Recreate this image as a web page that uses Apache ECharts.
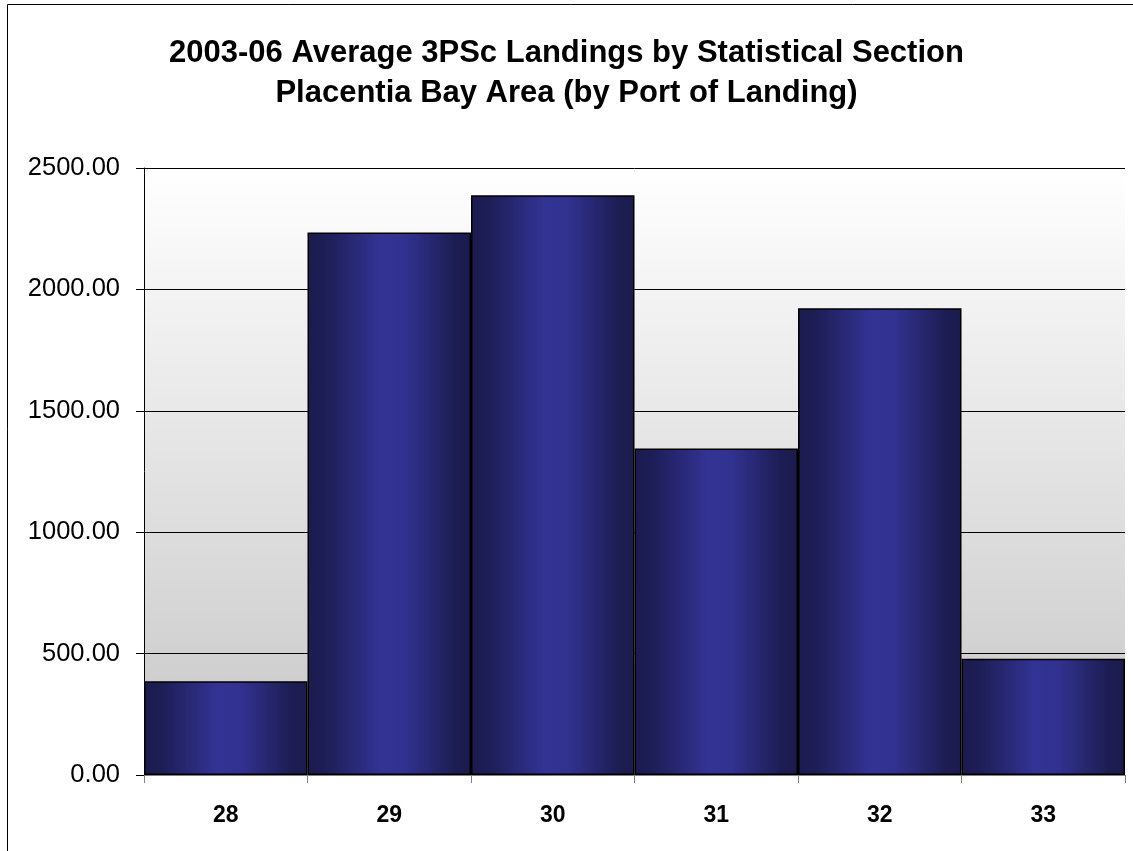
<!DOCTYPE html>
<html>
<head>
<meta charset="utf-8" />
<title>3PSc Landings</title>
<script src="https://cdn.jsdelivr.net/npm/echarts@6/dist/echarts.min.js"></script>
<style>
  html, body { margin: 0; padding: 0; background: #fff; }
  #main { width: 1133px; height: 851px; }
</style>
</head>
<body>
<div id="main"></div>
<script type="text/javascript">
var sections = ['28', '29', '30', '31', '32', '33'];
var landings = [386, 2234, 2388, 1345, 1922, 479];
var yTicks = [0, 500, 1000, 1500, 2000, 2500];

var myChart = echarts.init(document.getElementById('main'));

// bar fill: dark edges, lighter blue in the middle
var barFill = new echarts.graphic.LinearGradient(0, 0, 1, 0, [
    { offset: 0, color: '#1b1b4e' },
    { offset: 0.12, color: '#1e1e58' },
    { offset: 0.45, color: '#333395' },
    { offset: 0.6, color: '#31318f' },
    { offset: 0.9, color: '#1d1d54' },
    { offset: 1, color: '#1b1b4c' }
]);

var option = {
    backgroundColor: '#ffffff',
    animation: false,
    title: {
        text: '2003-06 Average 3PSc Landings by Statistical Section\nPlacentia Bay Area (by Port of Landing)',
        left: 'center',
        top: 28,
        textStyle: {
            fontFamily: 'Liberation Sans, Arial, sans-serif',
            fontSize: 31,
            fontWeight: 'bold',
            color: '#000',
            lineHeight: 40
        }
    },
    graphic: [{
        type: 'rect',
        shape: { x: 7.5, y: 4.5, width: 1140, height: 860 },
        style: { fill: 'none', stroke: '#000', lineWidth: 1 },
        silent: true,
        z: -1
    }],
    grid: {
        left: 144,
        top: 168,
        right: 8,
        bottom: 76,
        show: true,
        borderWidth: 0,
        backgroundColor: new echarts.graphic.LinearGradient(0, 0, 0, 1, [
            { offset: 0, color: '#ffffff' },
            { offset: 1, color: '#c6c6c6' }
        ])
    },
    xAxis: {
        type: 'category',
        data: sections,
        boundaryGap: true,
        axisLine: { show: true, lineStyle: { color: '#808080', width: 1 } },
        axisTick: { show: true, alignWithLabel: false, length: 8, lineStyle: { color: '#808080' } },
        axisLabel: {
            margin: 29,
            fontFamily: 'Liberation Sans, Arial, sans-serif',
            fontSize: 23,
            fontWeight: 'bold',
            color: '#000'
        }
    },
    yAxis: {
        type: 'value',
        min: yTicks[0],
        max: yTicks[yTicks.length - 1],
        interval: 500,
        axisLine: { show: true, lineStyle: { color: '#000', width: 1 } },
        axisTick: { show: true, length: 8, lineStyle: { color: '#000' } },
        splitLine: { show: true, lineStyle: { color: '#000', width: 1 } },
        axisLabel: {
            margin: 24,
            fontFamily: 'Liberation Sans, Arial, sans-serif',
            fontSize: 25.5,
            color: '#000',
            formatter: function (v) { return v.toFixed(2); }
        }
    },
    series: [{
        type: 'bar',
        data: landings,
        barCategoryGap: '0%',
        itemStyle: {
            color: barFill,
            borderColor: '#000',
            borderWidth: 1.5
        }
    }]
};

myChart.setOption(option);
</script>
</body>
</html>
